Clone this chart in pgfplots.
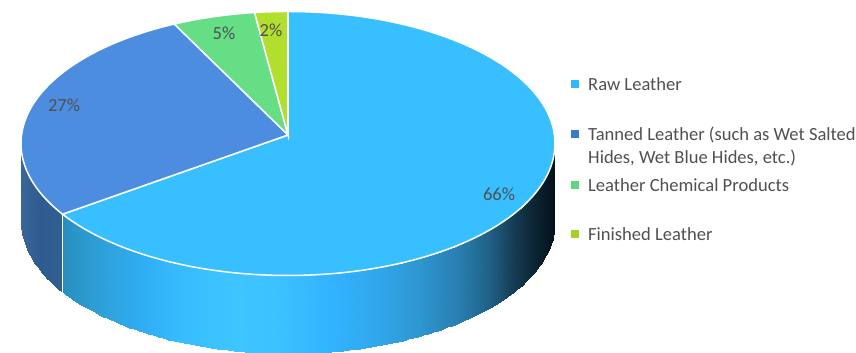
\documentclass[border=0pt]{standalone}
\usepackage{pgfplots}
\usepackage{pgfplotstable}
\usepackage{fontspec}
\setmainfont{Carlito}
\pgfplotsset{compat=1.18}

% Market share of each product, clockwise from twelve o'clock
\pgfplotstableread{
share
66
27
5
2
}\shares
\pgfplotstablegetelem{0}{share}\of\shares\let\shareA\pgfplotsretval
\pgfplotstablegetelem{1}{share}\of\shares\let\shareB\pgfplotsretval
\pgfplotstablegetelem{2}{share}\of\shares\let\shareC\pgfplotsretval
\pgfplotstablegetelem{3}{share}\of\shares\let\shareD\pgfplotsretval

% Disc geometry: ellipse centre, radii, wall depth, wedge apex
\def\cx{288}\def\cy{209.5}\def\rx{267}\def\ry{132}\def\depth{78}
\def\ax{288}\def\ay{218}
\pgfmathsetmacro\tA{90-3.6*\shareA}
\pgfmathsetmacro\tB{\tA-3.6*\shareB}
\pgfmathsetmacro\tC{\tB-3.6*\shareC}
\pgfmathsetmacro\tD{\tC-3.6*\shareD}
\pgfmathsetmacro\edgeX{\cx+\rx*cos(\tA)}
\pgfmathsetmacro\edgeY{\cy+\ry*sin(\tA)}
\pgfmathsetmacro\edgeYb{\edgeY-\depth}

\definecolor{rawC}{HTML}{38BFFF}
\definecolor{tanC}{HTML}{4D8DE0}
\definecolor{chemC}{HTML}{66DE85}
\definecolor{finC}{HTML}{B2DE2E}
\definecolor{rawL}{HTML}{2EB8FF}
\definecolor{tanL}{HTML}{3A7BD0}
\definecolor{chemL}{HTML}{5FD67E}
\definecolor{finL}{HTML}{A6D12A}
\definecolor{txt}{HTML}{505050}

% Wall shading as a function of horizontal position
\pgfplotsset{colormap={wall}{
  rgb255(21)=(58,102,153)
  rgb255(40)=(47,92,144)
  rgb255(62)=(50,95,145)
  rgb255(62.6)=(40,143,190)
  rgb255(100)=(46,160,216)
  rgb255(145)=(48,174,245)
  rgb255(180)=(55,188,255)
  rgb255(235)=(62,197,255)
  rgb255(275)=(60,194,255)
  rgb255(335)=(50,178,255)
  rgb255(380)=(48,166,234)
  rgb255(420)=(46,150,208)
  rgb255(460)=(40,125,175)
  rgb255(490)=(32,96,133)
  rgb255(515)=(20,58,80)
  rgb255(535)=(12,36,50)
  rgb255(556)=(4,16,24)
}}

\begin{document}
\begin{tikzpicture}
\path[use as bounding box] (0,0) rectangle (856pt,353pt);
\begin{axis}[
  at={(0,0)}, anchor=south west,
  width=856pt, height=353pt, scale only axis,
  xmin=0, xmax=856, ymin=0, ymax=353, zmin=-1, zmax=1,
  view={0}{90}, hide axis, clip=false,
  colormap name=wall, point meta min=21, point meta max=556,
]
% Wall of the disc, below the front half of the rim
\addplot3[surf, shader=interp,
  domain=-180:\tA, y domain=0:1, samples=25, samples y=2, point meta=x]
  ({\cx+\rx*cos(x)},{\cy-\depth*y+\ry*sin(x)},0);
\addplot3[surf, shader=interp,
  domain=\tA:0, y domain=0:1, samples=120, samples y=2, point meta=x]
  ({\cx+\rx*cos(x)},{\cy-\depth*y+\ry*sin(x)},0);
\draw[white, line width=1.5pt] (axis cs:\edgeX,\edgeY,0) -- (axis cs:\edgeX,\edgeYb,0);

% Wedges on the top face, each spanning its share of the turn
\addplot3[fill=rawC, draw=white, line width=1.5pt, domain=\tA:90, samples=120, samples y=1]
  ({\cx+\rx*cos(x)},{\cy+\ry*sin(x)},0) -- (axis cs:\ax,\ay,0) -- cycle;
\addplot3[fill=tanC, draw=white, line width=1.5pt, domain=\tB:\tA, samples=60, samples y=1]
  ({\cx+\rx*cos(x)},{\cy+\ry*sin(x)},0) -- (axis cs:\ax,\ay,0) -- cycle;
\addplot3[fill=chemC, draw=white, line width=1.5pt, domain=\tC:\tB, samples=20, samples y=1]
  ({\cx+\rx*cos(x)},{\cy+\ry*sin(x)},0) -- (axis cs:\ax,\ay,0) -- cycle;
\addplot3[fill=finC, draw=white, line width=1.5pt, domain=\tD:\tC, samples=12, samples y=1]
  ({\cx+\rx*cos(x)},{\cy+\ry*sin(x)},0) -- (axis cs:\ax,\ay,0) -- cycle;

% Share labels
\tikzset{share/.style={text=txt, font=\fontsize{18.5}{22}\selectfont, inner sep=0pt}}
\node[share] at (axis cs:499,159,0) {66\%};
\node[share] at (axis cs:64,248,0) {27\%};
\node[share] at (axis cs:224,320,0) {5\%};
\node[share] at (axis cs:271,323,0) {2\%};

% Legend swatches
\addplot3[only marks, mark=square*, mark size=3.5pt, mark options={rawL, draw=rawL}] coordinates {(575,269,0)};
\addplot3[only marks, mark=square*, mark size=3.5pt, mark options={tanL, draw=tanL}] coordinates {(575,219,0)};
\addplot3[only marks, mark=square*, mark size=3.5pt, mark options={chemL, draw=chemL}] coordinates {(575,168,0)};
\addplot3[only marks, mark=square*, mark size=3.5pt, mark options={finL, draw=finL}] coordinates {(575,119,0)};

% Legend entries
\tikzset{entry/.style={anchor=base west, text=txt, font=\fontsize{18.55}{23}\selectfont, inner sep=0pt}}
\node[entry] at (axis cs:588,262.5,0) {Raw Leather};
\node[entry] at (axis cs:588,212,0) {Tanned Leather (such as Wet Salted};
\node[entry] at (axis cs:588,189.5,0) {Hides, Wet Blue Hides, etc.)};
\node[entry] at (axis cs:588,161.5,0) {Leather Chemical Products};
\node[entry] at (axis cs:588,112,0) {Finished Leather};
\end{axis}
\end{tikzpicture}
\end{document}
